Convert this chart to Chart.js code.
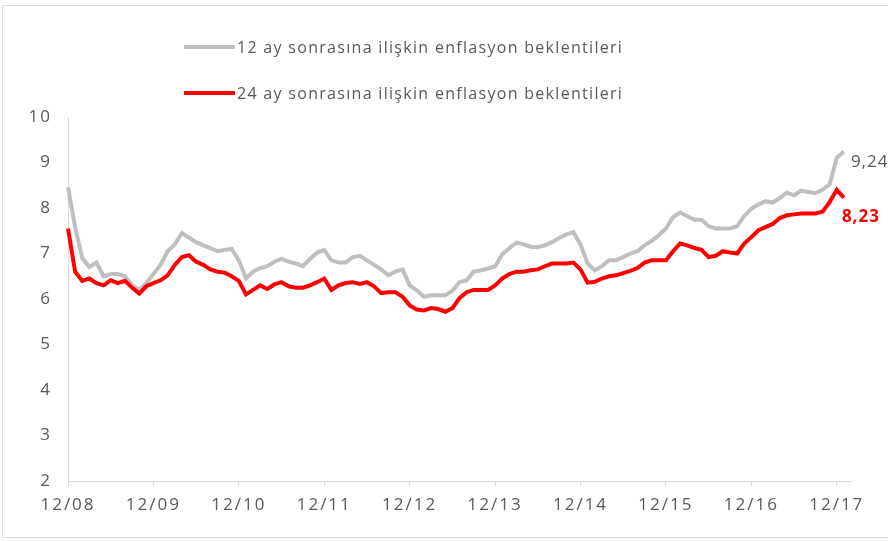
<!DOCTYPE html>
<html>
<head>
<meta charset="utf-8">
<script src="https://cdn.jsdelivr.net/npm/chart.js@4.4.1/dist/chart.umd.min.js"></script>
<style>
  html, body { margin: 0; padding: 0; background: #fff; }
  #wrap { position: relative; width: 888px; height: 541px; overflow: hidden; }
  #frame { position: absolute; left: 2px; top: 5px; width: 900px; height: 531px; border: 1px solid #dcdcdc; }
  #chart { position: absolute; left: 0; top: 0; }
  .leg { position: absolute; left: 184px; height: 24px; font: 16px "Open Sans", sans-serif; letter-spacing: 1.3px; color: #595959; display: flex; align-items: center; white-space: nowrap; }
  .leg span.line { display: inline-block; width: 51px; height: 4px; margin-right: 2px; }
</style>
</head>
<body>
<div id="wrap">
  <div id="frame"></div>
  <canvas id="chart" width="888" height="541"></canvas>
  <div class="leg" style="top:35px"><span class="line" style="background:#bfbfbf"></span>12 ay sonrasına ilişkin enflasyon beklentileri</div>
  <div class="leg" style="top:81px"><span class="line" style="background:#ff0000"></span>24 ay sonrasına ilişkin enflasyon beklentileri</div>
</div>
<script>
// aylık gözlemler: 12/08 -> 01/18
const beklenti12 = [
  8.46, 7.58, 6.9, 6.7, 6.8, 6.5, 6.55, 6.55, 6.5, 6.3, 6.2, 6.35,
  6.55, 6.75, 7.05, 7.2, 7.45, 7.35, 7.25, 7.18, 7.12, 7.05, 7.08, 7.1,
  6.85, 6.45, 6.6, 6.68, 6.72, 6.82, 6.88, 6.82, 6.78, 6.72, 6.88, 7.02,
  7.08, 6.85, 6.8, 6.8, 6.92, 6.95, 6.85, 6.75, 6.65, 6.52, 6.6, 6.65,
  6.3, 6.19, 6.05, 6.08, 6.08, 6.08, 6.18, 6.37, 6.41, 6.6, 6.63, 6.67,
  6.72, 6.98, 7.12, 7.24, 7.2, 7.15, 7.14, 7.18, 7.25, 7.34, 7.42, 7.47,
  7.2, 6.78, 6.63, 6.72, 6.85, 6.85, 6.92, 7.0, 7.05, 7.18, 7.28, 7.4,
  7.55, 7.8, 7.9, 7.82, 7.74, 7.74, 7.6, 7.55, 7.55, 7.55, 7.6, 7.82,
  7.98, 8.08, 8.15, 8.12, 8.22, 8.34, 8.28, 8.38, 8.35, 8.33, 8.4, 8.52,
  9.1, 9.24
];
const beklenti24 = [
  7.55, 6.6, 6.4, 6.45, 6.35, 6.3, 6.41, 6.35, 6.4, 6.25, 6.12, 6.28,
  6.35, 6.41, 6.52, 6.75, 6.92, 6.96, 6.82, 6.75, 6.65, 6.6, 6.58, 6.5,
  6.4, 6.1, 6.2, 6.3, 6.22, 6.32, 6.37, 6.28, 6.25, 6.25, 6.3, 6.37,
  6.45, 6.2, 6.3, 6.35, 6.37, 6.33, 6.37, 6.28, 6.13, 6.15, 6.15, 6.05,
  5.86, 5.77, 5.75, 5.8, 5.78, 5.72, 5.8, 6.02, 6.15, 6.2, 6.2, 6.2,
  6.3, 6.45, 6.55, 6.6, 6.6, 6.63, 6.65, 6.72, 6.78, 6.78, 6.78, 6.8,
  6.65, 6.36, 6.38, 6.45, 6.5, 6.52, 6.57, 6.62, 6.68, 6.8, 6.85, 6.85,
  6.85, 7.05, 7.22, 7.18, 7.12, 7.08, 6.92, 6.95, 7.05, 7.02, 7.0, 7.22,
  7.36, 7.51, 7.58, 7.65, 7.78, 7.84, 7.86, 7.88, 7.88, 7.88, 7.92, 8.13,
  8.4, 8.23
];
const sonEtiket12 = '9,24';
const sonEtiket24 = '8,23';

// ay etiketleri (eksen sadece aralık aylarını gösteriyor)
const aylar = [];
for (let i = 0; i <= 110; i++) {
  const ay = ((11 + i) % 12) + 1;
  const yil = 8 + Math.floor((11 + i) / 12);
  aylar.push(String(ay).padStart(2, '0') + '/' + String(yil).padStart(2, '0'));
}

const yaziRengi = '#595959';
const eksenRengi = '#d9d9d9';

// yazılar biraz geniş duruyor, harf aralığı açılıyor
const harfAraligi = {
  id: 'harfAraligi',
  beforeDraw(chart) { chart.ctx.letterSpacing = '2px'; }
};

// son değer etiketleri
const sonDegerler = {
  id: 'sonDegerler',
  afterDatasetsDraw(chart) {
    const ctx = chart.ctx;
    const xs = chart.scales.x, ys = chart.scales.y;
    const i12 = beklenti12.length - 1;
    const i24 = beklenti24.length - 1;
    ctx.save();
    ctx.letterSpacing = '1px';
    ctx.textBaseline = 'middle';
    ctx.textAlign = 'left';
    ctx.font = '17px "Open Sans", sans-serif';
    ctx.fillStyle = yaziRengi;
    ctx.fillText(sonEtiket12, xs.getPixelForValue(i12) + 7, ys.getPixelForValue(beklenti12[i12]) + 11);
    ctx.font = 'bold 17px "Open Sans", sans-serif';
    ctx.fillStyle = '#ff0000';
    ctx.fillText(sonEtiket24, xs.getPixelForValue(i24) - 2, ys.getPixelForValue(beklenti24[i24]) + 20);
    ctx.restore();
  }
};

new Chart(document.getElementById('chart').getContext('2d'), {
  type: 'line',
  data: {
    labels: aylar,
    datasets: [
      {
        label: '12 ay sonrasına ilişkin enflasyon beklentileri',
        data: beklenti12,
        borderColor: '#bfbfbf',
        borderWidth: 4,
        pointRadius: 0,
        tension: 0,
        order: 2
      },
      {
        label: '24 ay sonrasına ilişkin enflasyon beklentileri',
        data: beklenti24,
        borderColor: '#ff0000',
        borderWidth: 4,
        pointRadius: 0,
        tension: 0,
        order: 1
      }
    ]
  },
  options: {
    responsive: false,
    animation: false,
    layout: { padding: { left: 0, right: 37, top: 117, bottom: 0 } },
    plugins: {
      legend: { display: false },
      tooltip: { enabled: false }
    },
    scales: {
      x: {
        type: 'category',
        offset: false,
        afterBuildTicks: (scale) => {
          scale.ticks = scale.ticks.filter(t => aylar[t.value].startsWith('12/'));
        },
        afterFit: (scale) => { scale.height = 60; },
        grid: { drawOnChartArea: false, drawTicks: true, tickLength: 5, color: eksenRengi },
        border: { display: true, color: eksenRengi, width: 1 },
        ticks: {
          autoSkip: false,
          maxRotation: 0,
          padding: 9,
          color: yaziRengi,
          font: { family: '"Open Sans", sans-serif', size: 17 },
          callback: function (value) { return this.getLabelForValue(value); }
        }
      },
      y: {
        min: 2,
        max: 10,
        afterFit: (scale) => { scale.width = 68; },
        grid: { display: false, drawTicks: false },
        border: { display: true, color: eksenRengi, width: 1 },
        ticks: {
          stepSize: 1,
          padding: 16,
          color: yaziRengi,
          font: { family: '"Open Sans", sans-serif', size: 17 }
        }
      }
    }
  },
  plugins: [harfAraligi, sonDegerler]
});
</script>
</body>
</html>
